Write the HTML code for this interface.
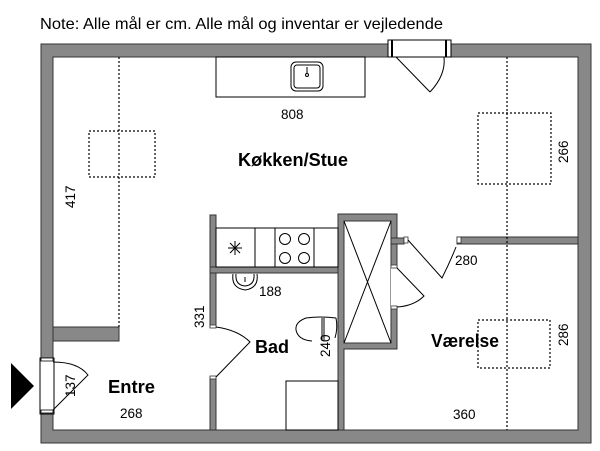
<!DOCTYPE html>
<html><head><meta charset="utf-8"><style>
body{margin:0;background:#fff}
svg{display:block}
text{font-family:"Liberation Sans",sans-serif;fill:#000}
.b{font-weight:bold;font-size:18px}
.d{font-size:13.5px}
</style></head><body>
<svg width="600" height="451" viewBox="0 0 600 451">
<text x="40" y="29" font-size="16" textLength="403" lengthAdjust="spacingAndGlyphs">Note: Alle mål er cm. Alle mål og inventar er vejledende</text>
<g fill="#888" stroke="#333" stroke-width="1">
<path fill-rule="evenodd" d="M41 44H591V443H41Z M53 57V430H578V57Z"/>
<rect x="53" y="327" width="66" height="14"/>
<rect x="210" y="215" width="6" height="112"/>
<rect x="210" y="378" width="6" height="52"/>
<rect x="210" y="267" width="128" height="6"/>
<path fill-rule="evenodd" d="M338 214H397V349H344V430H338Z M344 221V343H391V221Z"/>
<rect x="391" y="238" width="13" height="6"/>
<rect x="457" y="237" width="121" height="7"/>
</g>
<rect x="40" y="358" width="14" height="56" fill="#fff" stroke="#000"/>
<rect x="41" y="358" width="12" height="3" fill="#fff" stroke="#000" stroke-width="0.8"/>
<rect x="41" y="410" width="12" height="3" fill="#fff" stroke="#000" stroke-width="0.8"/>
<rect x="388" y="40" width="63" height="17" fill="#fff" stroke="#000"/>
<rect x="391" y="268" width="7" height="39" fill="#fff"/>
<rect x="211" y="327" width="4" height="51" fill="#fff"/>
<g fill="#fff" stroke="#333" stroke-width="0.8">
<rect x="210" y="325" width="6" height="3"/><rect x="210" y="376" width="6" height="3"/>
<rect x="391" y="265" width="6" height="3"/><rect x="391" y="306" width="6" height="3"/>
<rect x="404" y="237" width="4" height="6"/><rect x="457" y="237" width="4" height="6"/>
</g>
<g fill="none" stroke="#000" stroke-width="1">
<line x1="392" y1="40" x2="392" y2="57" stroke-width="2"/><line x1="446" y1="40" x2="446" y2="57" stroke-width="2"/>
<path d="M396 57L430 92M430 92Q446 75 444 57"/>
<path d="M53 362Q78 362 88 375L53 410"/>
<path d="M216 327Q238 330 250 342L216 377"/>
<path d="M397 268L424 296Q414 306 397 307"/>
<path d="M408 240L442 278Q450 262 456 247"/>
<rect x="216" y="57" width="149" height="40"/>
<rect x="291" y="62" width="32" height="29" rx="5"/>
<rect x="294" y="65" width="26" height="23" rx="3"/>
<line x1="307" y1="67" x2="307" y2="74"/><circle cx="307" cy="75" r="1.5"/>
<rect x="216" y="228" width="122" height="39"/>
<line x1="255" y1="228" x2="255" y2="267"/><line x1="275" y1="228" x2="275" y2="267"/><line x1="314" y1="228" x2="314" y2="267"/>
<circle cx="285" cy="239" r="5.5"/><circle cx="304" cy="239" r="5.5"/><circle cx="285" cy="258" r="5.5"/><circle cx="304" cy="258" r="5.5"/>
<path d="M228 248H242M235 241V255M230 243L240 253M240 243L230 253"/>
<line x1="344" y1="221" x2="391" y2="343"/><line x1="391" y1="221" x2="344" y2="343"/>
<path d="M233 274Q231 288 245 290Q259 288 257 274" /><path d="M236 274Q235 285 245 286Q255 285 254 274"/>
<line x1="245" y1="277" x2="245" y2="282"/>
<path d="M336 318Q320 316 306 318Q295 322 296 330Q298 340 312 341M336 318Q338 328 335 338"/>
<line x1="322" y1="318" x2="322" y2="340"/><line x1="324" y1="318" x2="324" y2="340"/>
<rect x="286" y="381" width="52" height="49"/>
</g>
<g fill="none" stroke="#000" stroke-width="1.2" stroke-dasharray="2,2">
<line x1="119" y1="57" x2="119" y2="327"/>
<rect x="89" y="131" width="66" height="46"/>
<line x1="507" y1="57" x2="507" y2="430"/>
<rect x="478" y="113" width="73" height="71"/>
<rect x="478" y="320" width="72" height="48"/>
</g>
<polygon points="11,363 34,386 11,409" fill="#000"/>
<text class="d" x="281" y="119">808</text>
<text class="b" x="238" y="166" textLength="110" lengthAdjust="spacingAndGlyphs">Køkken/Stue</text>
<text class="b" x="255" y="353">Bad</text>
<text class="b" x="431" y="347" textLength="68" lengthAdjust="spacingAndGlyphs">Værelse</text>
<text class="b" x="108" y="393" textLength="47" lengthAdjust="spacingAndGlyphs">Entre</text>
<text class="d" x="259" y="296">188</text>
<text class="d" x="455" y="265">280</text>
<text class="d" x="120" y="418">268</text>
<text class="d" x="453" y="419">360</text>
<text class="d" transform="translate(75,208) rotate(-90)">417</text>
<text class="d" transform="translate(568,163) rotate(-90)">266</text>
<text class="d" transform="translate(568,346) rotate(-90)">286</text>
<text class="d" transform="translate(204,328) rotate(-90)">331</text>
<text class="d" transform="translate(330,357) rotate(-90)">240</text>
<text class="d" transform="translate(75,397) rotate(-90)">137</text>
</svg>
</body></html>
